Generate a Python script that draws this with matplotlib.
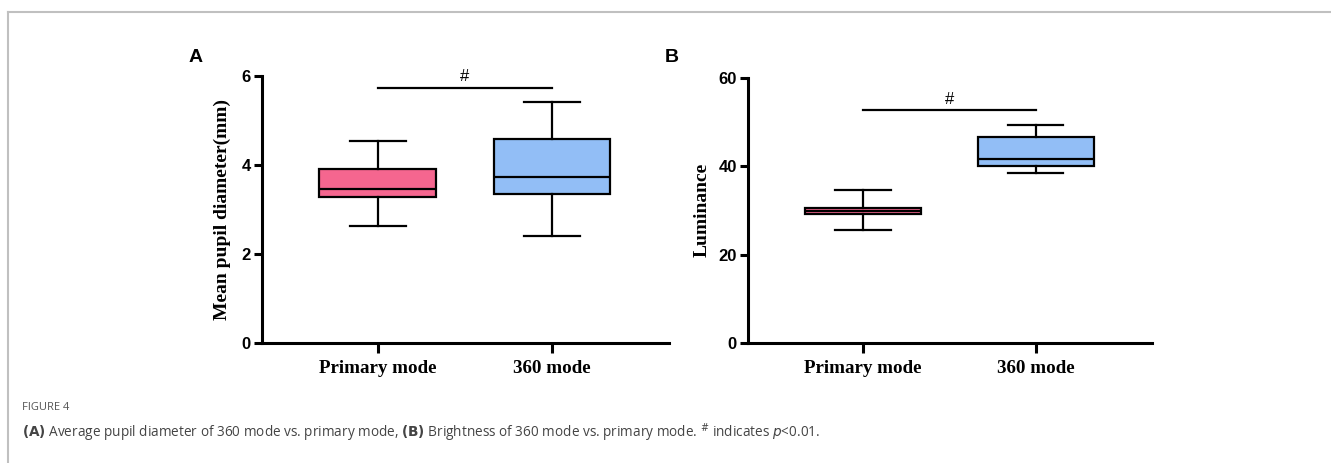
import matplotlib
matplotlib.use("Agg")
import matplotlib.pyplot as plt
from matplotlib.lines import Line2D

# data
groups = ["Primary mode", "360 mode"]

pupil_low = [2.63, 2.41]
pupil_q1 = [3.28, 3.35]
pupil_med = [3.46, 3.72]
pupil_q3 = [3.91, 4.58]
pupil_high = [4.55, 5.41]

lum_low = [25.6, 38.4]
lum_q1 = [29.1, 40.0]
lum_med = [29.8, 41.6]
lum_q3 = [30.5, 46.5]
lum_high = [34.6, 49.3]

pupil_sig = 5.74
lum_sig = 52.7

box_colors = ["#F5668F", "#92BEF6"]

fig = plt.figure(figsize=(13.31, 4.63), dpi=100)

# outer frame of the figure page
fig.add_artist(Line2D([8/1331, 1], [1 - 11.5/463, 1 - 11.5/463], color="#c0c0c0", lw=1.5))
fig.add_artist(Line2D([8/1331, 8/1331], [0, 1 - 11.5/463], color="#c0c0c0", lw=1.5))

def panel(rect, low, q1, med, q3, high, ymax, yticks, ylabel, sig, letter, letter_x, lpad):
    ax = fig.add_axes(rect)
    stats = []
    for i in range(len(groups)):
        stats.append(dict(whislo=low[i], q1=q1[i], med=med[i], q3=q3[i],
                          whishi=high[i], fliers=[], label=groups[i]))
    bp = ax.bxp(stats, positions=[1, 2], widths=0.67, capwidths=0.32,
                patch_artist=True, showfliers=False,
                boxprops=dict(lw=1.6, edgecolor="black"),
                medianprops=dict(color="black", lw=1.6),
                whiskerprops=dict(color="black", lw=1.6),
                capprops=dict(color="black", lw=1.6))
    for patch, c in zip(bp["boxes"], box_colors):
        patch.set_facecolor(c)
    ax.set_xlim(0.335, 2.672)
    ax.set_ylim(0, ymax)
    ax.set_yticks(yticks)
    ax.set_yticklabels([str(t) for t in yticks], fontfamily="Liberation Sans",
                       fontweight="bold", fontsize=12)
    ax.set_xticks([1, 2])
    ax.set_xticklabels(groups, fontfamily="Liberation Serif", fontweight="bold", fontsize=13.7)
    ax.tick_params(axis="y", length=6, width=2.2, pad=2)
    ax.tick_params(axis="x", length=7, width=2.2, pad=5)
    for s in ["top", "right"]:
        ax.spines[s].set_visible(False)
    for s in ["left", "bottom"]:
        ax.spines[s].set_linewidth(2.2)
    ax.set_ylabel(ylabel, fontfamily="Liberation Serif", fontweight="bold", fontsize=14, labelpad=lpad)
    ax.patch.set_alpha(0)
    # significance bar
    ax.plot([1, 2], [sig, sig], color="black", lw=1.6, clip_on=False)
    ax.text(1.5, sig + ymax * 0.012, "#", ha="center", va="bottom",
            fontfamily="Liberation Sans", fontsize=12)
    fig.text(letter_x / 1331, 1 - 57 / 463, letter, fontfamily="Liberation Sans",
             fontweight="bold", fontsize=14, ha="left", va="center")
    return ax

axA = panel([262/1331, 1 - 343/463, 407/1331, 267/463],
            pupil_low, pupil_q1, pupil_med, pupil_q3, pupil_high,
            6, [0, 2, 4, 6], "Mean pupil diameter(mm)", pupil_sig, "A", 189, 8)
axB = panel([748/1331, 1 - 343/463, 404/1331, 265.3/463],
            lum_low, lum_q1, lum_med, lum_q3, lum_high,
            60, [0, 20, 40, 60], "Luminance", lum_sig, "B", 665, 6)

fig.text(22/1331, 1 - 408/463, "FIGURE 4", fontfamily="Open Sans", fontsize=8,
         color="#555555", va="center")
fig.text(22/1331, 1 - 433/463,
         r"$\bf{(A)}$ Average pupil diameter of 360 mode vs. primary mode, $\bf{(B)}$ Brightness of 360 mode vs. primary mode. $^{\#}$ indicates $p$<0.01.",
         fontfamily="Open Sans", fontsize=9.8, color="#444444", va="center")

fig.savefig("out.png", dpi=100)
